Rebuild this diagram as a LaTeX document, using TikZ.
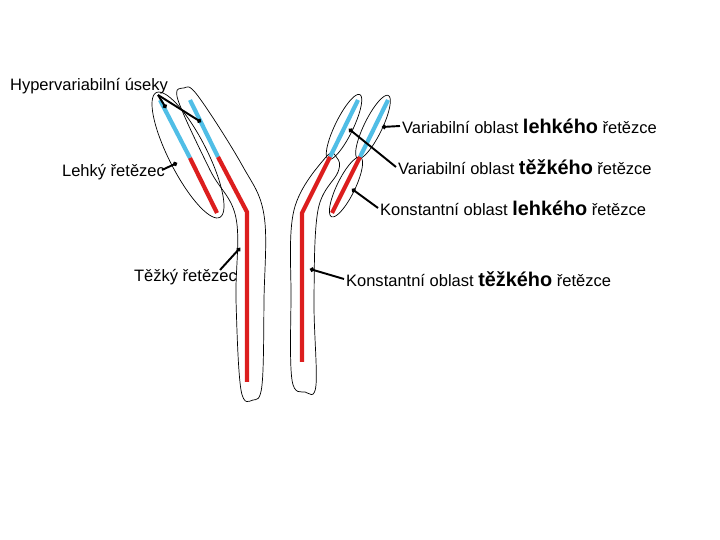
\documentclass[tikz,border=0pt]{standalone}
\usepackage{fontspec}
\setmainfont{Liberation Sans}
\usetikzlibrary{arrows.meta}
\newcommand\bigword[1]{{\fontsize{11.3}{12}\selectfont\bfseries #1}}
% ellipse in picture coordinates: centre x, centre y, half length, half width, angle
\newcommand\chainhull[5]{\draw[outline] plot[domain=0:360,samples=72,smooth cycle,variable=\t]
  ({#1+#3*cos(\t)*cos(#5)-#4*sin(\t)*sin(#5)},{#2+#3*cos(\t)*sin(#5)+#4*sin(\t)*cos(#5)});}
\begin{document}
\begin{tikzpicture}[x=0.02cm,y=-0.02cm,
  blue chain/.style={line width=2.4pt,draw={rgb,255:red,80;green,190;blue,230}},
  red chain/.style={line width=2.4pt,draw={rgb,255:red,220;green,30;blue,30}},
  outline/.style={draw=black,line width=0.4pt},
  pointer/.style={draw=black,line width=1.1pt,-{Circle[length=2.5pt]}},
  lbl/.style={font=\fontsize{9.4}{10}\selectfont,inner sep=1pt}]
\useasboundingbox (0,0) rectangle (720,540);
% outlines
\chainhull{188}{155}{70}{19}{63}
\chainhull{373}{127}{35}{9}{116}
\chainhull{344}{127}{36}{9}{116}
\chainhull{346}{187}{33}{9}{116}
\draw[outline] plot[smooth cycle,tension=0.6] coordinates {(184,88) (198,96) (242,165) (264,215) (264,300) (262,385) (253,400) (241,390) (236,300) (236,218) (210,170) (178,100)};
\draw[outline] plot[smooth cycle,tension=0.6] coordinates {(326,157) (337,158) (338,172) (318,210) (314,300) (316,385) (305,392) (292,380) (291,300) (294,210)};
% chains
\draw[blue chain] (160,100) -- (190,158);
\draw[red chain] (190,158) -- (217,213);
\draw[blue chain] (190,100) -- (218,157);
\draw[red chain] (218,157) -- (247,212) -- (247,382);
\draw[blue chain] (358,100) -- (330,157);
\draw[red chain] (330,157) -- (302,213) -- (302,362);
\draw[blue chain] (388,100) -- (360,157);
\draw[red chain] (360,157) -- (332,213);
% labels
\node[lbl,anchor=west] (hv) at (8,86) {Hypervariabilní úseky};
\node[lbl,anchor=west] (lr) at (60,172) {Lehký řetězec};
\node[lbl,anchor=west] (tr) at (132,277) {Těžký řetězec};
\node[lbl,anchor=west] (vl) at (400,126) {Variabilní oblast \bigword{lehkého} řetězce};
\node[lbl,anchor=west] (vt) at (396,167) {Variabilní oblast \bigword{těžkého} řetězce};
\node[lbl,anchor=west] (kl) at (378,208) {Konstantní oblast \bigword{lehkého} řetězce};
\node[lbl,anchor=west] (kt) at (344,279) {Konstantní oblast \bigword{těžkého} řetězce};
\coordinate (hv1) at (166,108);
\coordinate (hv2) at (201,122);
\coordinate (lr1) at (177,163);
\coordinate (tr1) at (240,248);
\coordinate (vl1) at (382,127);
\coordinate (vt1) at (349,129);
\coordinate (kl1) at (352,189);
\coordinate (kt1) at (310,269);
\draw[pointer] (158,95) -- (hv1);
\draw[pointer] (158,95) -- (hv2);
\draw[pointer] (162,170) -- (lr1);
\draw[pointer] (220,270) -- (tr1);
\draw[pointer] (vl.west) -- (vl1);
\draw[pointer] (vt.west) -- (vt1);
\draw[pointer] (kl.west) -- (kl1);
\draw[pointer] (kt.west) -- (kt1);
\end{tikzpicture}
\end{document}
